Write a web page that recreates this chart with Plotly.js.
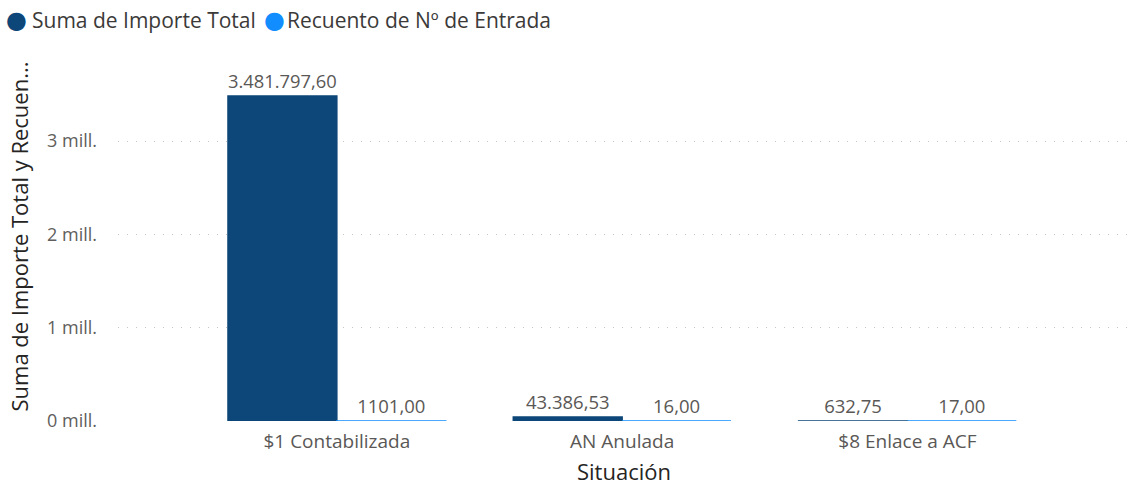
<!DOCTYPE html>
<html>
<head>
<meta charset="utf-8">
<script src="https://cdn.plot.ly/plotly-3.0.1.min.js"></script>
<style>html,body{margin:0;padding:0;background:#fff;}#chart{width:1134px;height:487px;}</style>
</head>
<body>
<div id="chart"></div>
<script>
const categories = ["$1 Contabilizada", "AN Anulada", "$8 Enlace a ACF"];
const importeTotal = [3481797.60, 43386.53, 632.75];
const recuentoEntrada = [1101, 16, 17];
const seriesNames = ["Suma de Importe Total", "Recuento de Nº de Entrada"];
const yTickVals = [0, 1000000, 2000000, 3000000];
const yTickText = ["0 mill.", "1 mill.", "2 mill.", "3 mill."];

function fmtEs(v, thousands) {
  const parts = v.toFixed(2).split(".");
  let intPart = parts[0];
  if (thousands) intPart = intPart.replace(/\B(?=(\d{3})+(?!\d))/g, ".");
  return intPart + "," + parts[1];
}

const darkBlue = "#0D4678";
const lightBlue = "#118DFF";
const colors = [darkBlue, lightBlue];
const fontFam = "'Open Sans', 'Noto Sans', sans-serif";
const W = 1134, H = 487;
const M = {l: 118, r: 4, t: 52, b: 66};
const PW = W - M.l - M.r, PH = H - M.t - M.b;
const px = x => (x - M.l) / PW;
const py = y => (H - M.b - y) / PH;

const traces = [
  {
    type: "bar", x: categories, y: importeTotal, name: seriesNames[0],
    marker: {color: darkBlue, line: {color: darkBlue, width: 1.5}},
    text: importeTotal.map(v => fmtEs(v, true)), textposition: "outside",
    textfont: {family: fontFam, size: 18.5, color: "#5A5856"},
    cliponaxis: false, showlegend: false, hoverinfo: "skip"
  },
  {
    type: "bar", x: categories, y: recuentoEntrada, name: seriesNames[1],
    marker: {color: lightBlue, line: {color: lightBlue, width: 1.5}},
    text: recuentoEntrada.map(v => fmtEs(v, false)), textposition: "outside",
    textfont: {family: fontFam, size: 18.5, color: "#5A5856"},
    cliponaxis: false, showlegend: false, hoverinfo: "skip"
  }
];

// legend drawn as annotations (circle + label) to match the reference style
const legendX = [[16, 30], [274, 285]];
const annotations = [];
seriesNames.forEach((name, i) => {
  annotations.push({xref: "paper", yref: "paper", x: px(legendX[i][0]), y: py(20),
    xanchor: "center", yanchor: "middle", showarrow: false, text: "●",
    font: {family: "DejaVu Sans", size: 24, color: colors[i]}});
  annotations.push({xref: "paper", yref: "paper", x: px(legendX[i][1]), y: py(20),
    xanchor: "left", yanchor: "middle", showarrow: false, text: name,
    font: {family: fontFam, size: 21, color: "#3B3A39"}});
});

const layout = {
  width: W, height: H,
  margin: M,
  paper_bgcolor: "#ffffff", plot_bgcolor: "#ffffff",
  font: {family: fontFam, color: "#605E5C"},
  barmode: "group", bargap: 0.237, bargroupgap: 0,
  showlegend: false,
  annotations: annotations,
  xaxis: {
    type: "category", range: [-0.767, 2.78],
    showgrid: false, showline: false, zeroline: false, ticks: "",
    ticklabelstandoff: 7,
    tickfont: {family: fontFam, size: 19, color: "#5A5856"},
    title: {text: "Situación", font: {family: fontFam, size: 22, color: "#252423"}, standoff: 11},
    automargin: false
  },
  yaxis: {
    range: [0, 3.954e6],
    tickvals: yTickVals, ticktext: yTickText,
    showgrid: true, gridcolor: "#C8C6C4", gridwidth: 1, griddash: "1px,8px",
    zeroline: false, showline: false, ticks: "",
    ticklabelstandoff: 20,
    tickfont: {family: fontFam, size: 18, color: "#605E5C"},
    title: {text: "Suma de Importe Total y Recuen...", font: {family: fontFam, size: 22, color: "#252423"}, standoff: 12},
    automargin: false
  }
};

Plotly.newPlot("chart", traces, layout, {displayModeBar: false, staticPlot: true});
</script>
</body>
</html>
